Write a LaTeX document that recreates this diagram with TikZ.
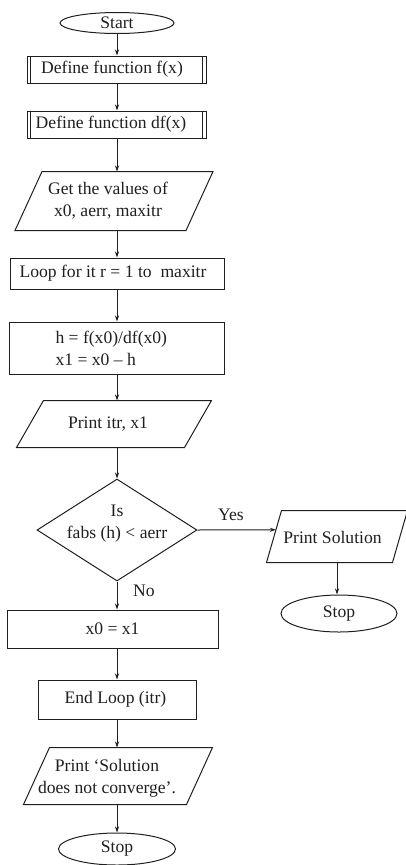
\documentclass[tikz,border=0pt]{standalone}
\usepackage{fontspec}
\setmainfont{Liberation Serif}
\usetikzlibrary{shapes.geometric,arrows.meta,calc}
\newcommand\drawpara[2]{\draw ([xshift=#2]#1.north west) -- ([xshift=#2]#1.north east) -- ([xshift=-#2]#1.south east) -- ([xshift=-#2]#1.south west) -- cycle;}
\newcommand\drawbars[1]{\draw ([xshift=4.3pt]#1.north west) -- ([xshift=4.3pt]#1.south west); \draw ([xshift=-4.3pt]#1.north east) -- ([xshift=-4.3pt]#1.south east);}
\begin{document}
\begin{tikzpicture}[x=1pt,y=-1pt,
  line width=1pt, color=black!88,
  every node/.style={font=\fontsize{17.6}{22}\selectfont, inner sep=0pt, align=center},
  box/.style={draw, rectangle},
  oval/.style={draw, ellipse},
  arr/.style={-{Stealth[length=6pt,width=4pt]}}]
\useasboundingbox (0,0) rectangle (405,865);

\node[oval, minimum width=114pt, minimum height=21pt] (start) at (117,23) {Start};
\node[box, minimum width=179pt, minimum height=27pt] (f) at (116.5,69.5) {};
\node (ft) at (112,69.5) {Define function f(x)};
\drawbars{f}
\node[box, minimum width=179pt, minimum height=27pt] (df) at (116.5,124.5) {};
\node (dft) at (111,124.5) {Define function df(x)};
\drawbars{df}
\node[minimum width=170pt, minimum height=58pt] (get) at (114,201) {};
\drawpara{get}{13.5pt}
\node (gett) at (108,201) {Get the values of\\x0, aerr, maxitr};
\node[box, minimum width=214pt, minimum height=31pt] (loop) at (117,273.5) {};
\node (loopt) at (113,273.5) {Loop for it r = 1 to~ maxitr};
\node[box, minimum width=215pt, minimum height=52pt] (h) at (116.5,348) {};
\node[anchor=west, align=left] (ht) at (55,348) {h = f(x0)/df(x0)\\x1 = x0 – h};
\node[minimum width=167pt, minimum height=46pt] (pi) at (114,424) {};
\drawpara{pi}{13.5pt}
\node (pit) at (108,424) {Print itr, x1};
\node[diamond, draw, minimum width=160pt, minimum height=102pt] (dec) at (117,530) {};
\node (dect) at (117,524) {Is\\fabs (h) < aerr};
\node[minimum width=125pt, minimum height=51pt] (ps) at (337,536.5) {};
\drawpara{ps}{7.5pt}
\node (pst) at (332.5,537) {Print Solution};
\node[oval, minimum width=116pt, minimum height=37pt] (stop1) at (339,613.5) {Stop};
\node[box, minimum width=211pt, minimum height=38pt] (x0) at (112.5,629) {x0 = x1};
\node[box, minimum width=158pt, minimum height=39pt] (endl) at (117,699.5) {};
\node (endlt) at (115.5,699.5) {End Loop (itr)};
\node[minimum width=162pt, minimum height=56pt] (pn) at (118,776) {};
\drawpara{pn}{13pt}
\node (pnt) at (107,778) {Print ‘Solution\\does not converge’.};
\node[oval, minimum width=117pt, minimum height=32pt] (stop2) at (117,849) {Stop};

\node (yes) at (231,515) {Yes};
\node (no) at (144,591) {No};
\coordinate (yesend) at ($([xshift=7.5pt]ps.north west)!0.37!([xshift=-7.5pt]ps.south west)$);

\draw[arr] (start.south) -- (f.north -| start.south);
\draw[arr] (f.south -| start.south) -- (df.north -| start.south);
\draw[arr] (df.south -| start.south) -- (get.north -| start.south);
\draw[arr] (get.south -| start.south) -- (loop.north -| start.south);
\draw[arr] (loop.south -| start.south) -- (h.north -| start.south);
\draw[arr] (h.south -| start.south) -- (pi.north -| start.south);
\draw[arr] (pi.south -| start.south) -- (dec.north);
\draw[arr] (dec.east) -- (yesend);
\draw[arr] (dec.south) -- (x0.north -| dec.south);
\draw[arr] (x0.south -| dec.south) -- (endl.north);
\draw[arr] (endl.south) -- (pn.north -| endl.south);
\draw[arr] (pn.south -| endl.south) -- (stop2.north);
\draw[arr] (ps.south) -- (stop1.north -| ps.south);
\end{tikzpicture}
\end{document}
